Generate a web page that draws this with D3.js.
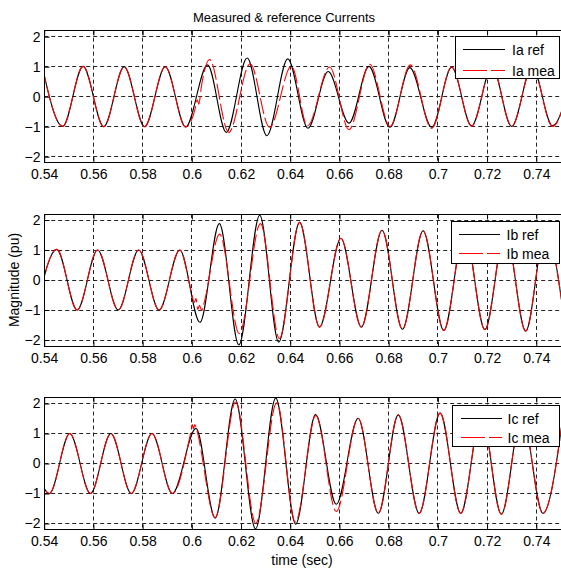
<!DOCTYPE html>
<html><head><meta charset="utf-8">
<script src="https://cdn.jsdelivr.net/npm/d3@7/dist/d3.min.js"></script>
<style>
body{margin:0;background:#fff}
text{font-family:"Liberation Sans",Arial,Helvetica,sans-serif;fill:#000}
</style>
</head><body>
<svg id="chart" width="561" height="568"></svg>
<script>
// ---------------- data (extrema of each waveform, [time s, pu]) ----------------
const titleText = "Measured & reference Currents";
const xLabel = "time (sec)";
const yLabel = "Magnitude (pu)";
const timeTicks = [0.54,0.56,0.58,0.6,0.62,0.64,0.66,0.68,0.7,0.72,0.74];
const valueTicks = [-2,-1,0,1,2];
const seriesNames = [["Ia ref","Ia mea"],["Ib ref","Ib mea"],["Ic ref","Ic mea"]];

const iaRef = [[0.5392,1],[0.5475,-0.99],[0.5558,1.01],[0.5642,-1],[0.5725,1],[0.5808,-1],[0.5892,1],[0.5975,-1.01],
  [0.6064,1.06],[0.6140,-1.19],[0.6225,1.29],[0.6305,-1.3],[0.6390,1.26],[0.6472,-1.05],[0.6554,0.84],[0.6639,-0.88],
  [0.6720,1.01],[0.6805,-1.02],[0.6886,0.97],[0.6975,-1.02],[0.7056,0.98],[0.7137,-0.97],[0.7220,1],[0.7300,-0.99],
  [0.7383,1],[0.7466,-0.97],[0.7550,1]];
const iaMea = [[0.5392,1],[0.5475,-0.99],[0.5558,1.01],[0.5642,-1],[0.5725,1],[0.5808,-1],[0.5892,1],[0.5975,-1.01],
  [0.6012,-0.45],[0.6022,-0.1],[0.6028,-0.25],[0.6040,0.4],[0.6072,1.24],[0.6150,-1.19],[0.6237,1.1],[0.6316,-1.02],
  [0.6405,1.02],[0.6470,-0.97],[0.6560,0.99],[0.6639,-1.1],[0.6723,1.08],[0.6806,-0.99],[0.6888,1.06],[0.6975,-1.06],
  [0.7056,1.0],[0.7137,-0.99],[0.7220,1],[0.7300,-0.99],[0.7383,1],[0.7466,-0.99],[0.7550,1]];

const ibRef = [[0.5368,-1],[0.5451,1.02],[0.5534,-1],[0.5617,1],[0.5701,-1],[0.5784,1],[0.5867,-1],[0.5951,1],
  [0.6033,-1.41],[0.6112,1.88],[0.6191,-2.16],[0.6276,2.16],[0.6353,-2.07],[0.6438,1.92],[0.6519,-1.57],[0.6606,1.39],
  [0.6689,-1.57],[0.6773,1.66],[0.6856,-1.64],[0.6940,1.64],[0.7024,-1.68],[0.7108,1.65],[0.7191,-1.65],[0.7274,1.65],
  [0.7357,-1.7],[0.7437,1.65],[0.7520,-1.7]];
const ibMea = [[0.5368,-1],[0.5451,1.02],[0.5534,-1],[0.5617,1],[0.5701,-1],[0.5784,1],[0.5867,-1],[0.5951,1],
  [0.5997,-0.35],[0.6010,-0.75],[0.6017,-0.62],[0.6024,-0.98],[0.6031,-0.84],[0.6040,-1.02],[0.6048,-0.82],
  [0.6113,1.53],[0.6193,-1.79],[0.6279,1.88],[0.6356,-1.95],[0.6438,1.92],[0.6519,-1.57],[0.6606,1.39],
  [0.6689,-1.57],[0.6773,1.66],[0.6856,-1.64],[0.6940,1.64],[0.7024,-1.68],[0.7108,1.65],[0.7191,-1.65],[0.7274,1.65],
  [0.7357,-1.7],[0.7437,1.65],[0.7520,-1.7]];

const icRef = [[0.5338,1],[0.5421,-1],[0.5504,1],[0.5588,-1],[0.5671,1],[0.5754,-1],[0.5838,1],[0.5921,-1],
  [0.6017,1.17],[0.6095,-1.82],[0.6176,2.15],[0.6259,-2.18],[0.6341,2.18],[0.6422,-2.02],[0.6503,1.63],[0.6587,-1.36],
  [0.6676,1.51],[0.6758,-1.66],[0.6839,1.62],[0.6924,-1.66],[0.7009,1.68],[0.7093,-1.66],[0.7177,1.65],[0.7258,-1.69],
  [0.7341,1.65],[0.7427,-1.66],[0.7510,1.66]];
const icMea = [[0.5338,1],[0.5421,-1],[0.5504,1],[0.5588,-1],[0.5671,1],[0.5754,-1],[0.5838,1],[0.5921,-1],
  [0.5997,1.1],[0.6002,1.3],[0.6007,1.16],[0.6012,1.3],[0.6019,1.14],[0.6095,-1.8],[0.6178,2.05],[0.6260,-1.99],
  [0.6345,2.02],[0.6421,-1.95],[0.6504,1.6],[0.6587,-1.6],
  [0.6676,1.51],[0.6758,-1.66],[0.6839,1.62],[0.6924,-1.66],[0.7009,1.68],[0.7093,-1.66],[0.7177,1.65],[0.7258,-1.69],
  [0.7341,1.65],[0.7427,-1.66],[0.7510,1.66]];

// ---------------- layout ----------------
const svg = d3.select("#chart");
const X0 = 44.2, X1 = 560.9;
const x = d3.scaleLinear().domain([0.54, 0.75]).range([X0, X1]);

const panels = [
  {top:30.7, bottom:162.7, ref:iaRef, mea:iaMea, names:seriesNames[0],
   leg:{x:455.5, y:36.5, w:104, h:42, lx0:463, lx1:505, tx:512, r1:49, r2:70}},
  {top:214, bottom:346, ref:ibRef, mea:ibMea, names:seriesNames[1],
   leg:{x:451.5, y:221.5, w:108, h:42, lx0:459, lx1:500, tx:506.5, r1:234, r2:253}},
  {top:397.5, bottom:529.5, ref:icRef, mea:icMea, names:seriesNames[2],
   leg:{x:452.5, y:405.5, w:107, h:41, lx0:461, lx1:502, tx:507.5, r1:418, r2:437}}
];

const crisp = v => Math.round(v - 0.5) + 0.5;

panels.forEach((p, i) => {
  const y = d3.scaleLinear().domain([-2.2, 2.2]).range([p.bottom, p.top]);
  const g = svg.append("g");
  const clipId = "clip" + i;
  svg.append("defs").append("clipPath").attr("id", clipId)
    .append("rect").attr("x", X0).attr("y", p.top).attr("width", X1 - X0).attr("height", p.bottom - p.top);

  // grid
  const grid = g.append("g").attr("stroke", "#000").attr("stroke-width", 1)
    .attr("stroke-dasharray", "4,3").attr("opacity", 0.85);
  grid.selectAll("line.v").data(timeTicks).join("line")
    .attr("x1", d => crisp(x(d))).attr("x2", d => crisp(x(d)))
    .attr("y1", p.top).attr("y2", p.bottom);
  grid.selectAll("line.h").data(valueTicks).join("line")
    .attr("y1", d => crisp(y(d))).attr("y2", d => crisp(y(d)))
    .attr("x1", X0).attr("x2", X1);

  const line = d3.line().x(d => x(d[0])).y(d => y(d[1])).curve(d3.curveMonotoneX);
  const curves = g.append("g").attr("clip-path", `url(#${clipId})`).attr("fill", "none");
  curves.append("path").datum(p.ref).attr("d", line).attr("stroke", "#000").attr("stroke-width", 1.1);
  curves.append("path").datum(p.mea).attr("d", line).attr("stroke", "#ff0000").attr("stroke-width", 1.1)
    .attr("stroke-dasharray", "16,4");

  // axes
  const bottomAxis = d3.axisBottom(x).tickValues(timeTicks).tickFormat(d => String(d))
    .tickSizeInner(-5).tickSizeOuter(0).tickPadding(7);
  const ax = g.append("g").attr("transform", `translate(0,${crisp(p.bottom)})`).call(bottomAxis);
  const leftAxis = d3.axisLeft(y).tickValues(valueTicks).tickFormat(d3.format("d"))
    .tickSizeInner(-5).tickSizeOuter(0).tickPadding(4);
  const ay = g.append("g").attr("transform", `translate(${crisp(X0)},0)`).call(leftAxis);
  const topAxis = d3.axisTop(x).tickValues(timeTicks).tickFormat("").tickSizeInner(-5).tickSizeOuter(0);
  const at = g.append("g").attr("transform", `translate(0,${crisp(p.top)})`).call(topAxis);
  [ax, ay, at].forEach(a => {
    a.select(".domain").remove();
    a.selectAll("text").attr("font-size", 14).attr("font-family", '"Liberation Sans",Arial,sans-serif');
    a.selectAll("line").attr("stroke", "#000");
  });

  // frame
  g.append("rect").attr("x", crisp(X0)).attr("y", crisp(p.top))
    .attr("width", Math.round(X1 - X0)).attr("height", Math.round(p.bottom - p.top))
    .attr("fill", "none").attr("stroke", "#000").attr("stroke-width", 1);

  // legend
  const L = p.leg;
  const lg = g.append("g");
  lg.append("rect").attr("x", L.x).attr("y", L.y).attr("width", L.w).attr("height", L.h)
    .attr("fill", "#fff").attr("stroke", "#000").attr("stroke-width", 1);
  lg.append("line").attr("x1", L.lx0).attr("x2", L.lx1).attr("y1", L.r1 + 0.5).attr("y2", L.r1 + 0.5)
    .attr("stroke", "#000").attr("stroke-width", 1.1);
  lg.append("line").attr("x1", L.lx0).attr("x2", L.lx1).attr("y1", L.r2 + 0.5).attr("y2", L.r2 + 0.5)
    .attr("stroke", "#ff0000").attr("stroke-width", 1.1).attr("stroke-dasharray", "24,4");
  lg.append("text").attr("x", L.tx).attr("y", L.r1 + 5.5).attr("font-size", 14).text(p.names[0]);
  lg.append("text").attr("x", L.tx).attr("y", L.r2 + 5.5).attr("font-size", 14).text(p.names[1]);
});

// titles
svg.append("text").attr("x", 284).attr("y", 21.5).attr("text-anchor", "middle")
  .attr("font-size", 13).text(titleText);
svg.append("text").attr("x", 302).attr("y", 565).attr("text-anchor", "middle")
  .attr("font-size", 14).text(xLabel);
svg.append("text").attr("transform", "translate(19,280) rotate(-90)").attr("text-anchor", "middle")
  .attr("font-size", 14).text(yLabel);
</script>
</body></html>
